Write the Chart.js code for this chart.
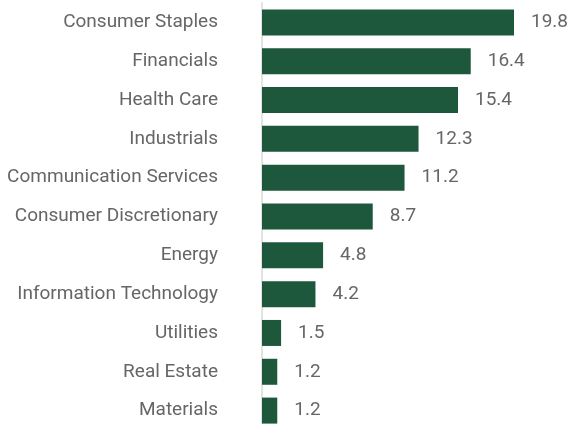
<!DOCTYPE html>
<html lang="en">
<head>
    <meta charset="UTF-8">
    <title>Sectors</title>
    <script src="https://cdn.jsdelivr.net/npm/chart.js"></script>
    <style>
        html, body { margin: 0; padding: 0; overflow: hidden; background: #fff; }
        .wrap { width: 571px; height: 424px; overflow: hidden; }
    </style>
</head>
<body>
    <div class="wrap">
        <canvas id="graficoSetores" width="571" height="430"></canvas>
    </div>
<script>
    const setores = ['Consumer Staples', 'Financials', 'Health Care', 'Industrials', 'Communication Services',
        'Consumer Discretionary', 'Energy', 'Information Technology', 'Utilities', 'Real Estate', 'Materials'];
    const pesos = [19.8, 16.4, 15.4, 12.3, 11.2, 8.7, 4.8, 4.2, 1.5, 1.2, 1.2];

    const corTexto = '#666666';
    const fonte = { family: 'Roboto', size: 19 };

    // escreve o valor ao lado de cada barra
    const rotulosValores = {
        id: 'rotulosValores',
        afterDatasetsDraw(chart) {
            const ctx = chart.ctx;
            const meta = chart.getDatasetMeta(0);
            ctx.save();
            ctx.font = fonte.size + 'px ' + fonte.family;
            ctx.fillStyle = corTexto;
            ctx.textAlign = 'left';
            ctx.textBaseline = 'middle';
            meta.data.forEach((barra, i) => {
                ctx.fillText(pesos[i].toFixed(1), barra.x + 17, barra.y);
            });
            ctx.restore();
        }
    };

    const ctx = document.getElementById('graficoSetores').getContext('2d');
    new Chart(ctx, {
        type: 'bar',
        data: {
            labels: setores,
            datasets: [{
                data: pesos,
                backgroundColor: '#1e583c',
                borderWidth: 0,
                barPercentage: 0.67,
                categoryPercentage: 1
            }]
        },
        options: {
            indexAxis: 'y',
            responsive: false,
            animation: false,
            devicePixelRatio: 1,
            layout: { padding: { top: 3, right: 29, bottom: 0, left: 0 } },
            plugins: {
                legend: { display: false },
                tooltip: { enabled: false }
            },
            scales: {
                x: {
                    display: false,
                    min: 0,
                    max: 22
                },
                y: {
                    afterFit(scale) {
                        scale.width = 262;
                        scale.paddingTop = 0;
                        scale.paddingBottom = 0;
                    },
                    grid: { display: true, color: 'rgba(0,0,0,0)', drawTicks: false },
                    border: { display: true, color: '#e3e3e3', width: 2 },
                    ticks: {
                        color: corTexto,
                        font: fonte,
                        padding: 44
                    }
                }
            }
        },
        plugins: [rotulosValores]
    });
</script>
</body>
</html>
